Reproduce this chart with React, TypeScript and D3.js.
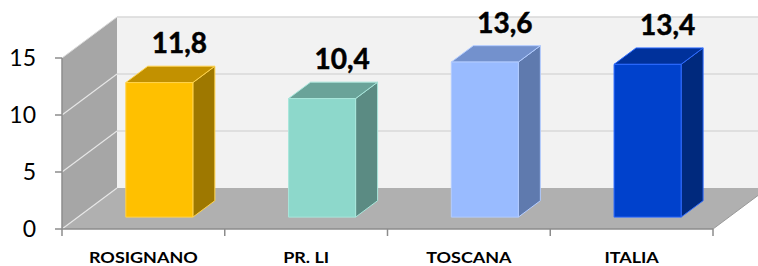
import React from "react";
import * as d3 from "d3";

const categories = ["ROSIGNANO", "PR. LI", "TOSCANA", "ITALIA"];
const values = [11.8, 10.4, 13.6, 13.4];
const valueLabels = ["11,8", "10,4", "13,6", "13,4"];
const yTicks = [0, 5, 10, 15];
const frontColors = ["#FFC000", "#8DD8CB", "#99BBFF", "#0041CC"];
const topColors = ["#C29100", "#6AA399", "#7391CD", "#00319B"];
const sideColors = ["#9E7800", "#5B8B83", "#5F7AAE", "#00297D"];
const strokeColors = ["#FFD34D", "#A8E6DB", "#B3CCFF", "#2E6BFF"];

const W = 758;
const H = 266;
const DX = 55;
const DY = -41;
const Z0 = 0.29;
const Z1 = 0.69;

export default function App() {
  const x = d3.scaleBand<string>().domain(categories).range([62, 713]).paddingInner(0).paddingOuter(0);
  const y = d3.scaleLinear().domain([0, 15]).range([229, 58]);
  const P = (px: number, v: number, z: number) => [px + z * DX, y(v) + z * DY];
  const poly = (pts: number[][]) => pts.map((p) => p.join(",")).join(" ");
  const xL = 62;
  const xR = 713;
  const bw = x.bandwidth() * 0.412;

  return (
    <svg width={W} height={H} style={{ position: "absolute", left: 0, top: 0, display: "block" }} fontFamily="Lato, 'Open Sans', sans-serif">
      <rect x={0} y={0} width={W} height={H} fill="#ffffff" />
      {/* back wall */}
      <polygon points={poly([P(xL, 0, 1), P(xL, 15, 1), [W + 60, y(15) + DY], [W + 60, y(0) + DY]])} fill="#F2F2F2" />
      {yTicks.filter((t) => t > 0).map((t) => (
        <line key={"bg" + t} x1={P(xL, t, 1)[0]} y1={P(xL, t, 1)[1]} x2={W + 60} y2={P(xL, t, 1)[1]} stroke="#D9D9D9" strokeWidth={1.5} />
      ))}
      {/* side wall */}
      <polygon points={poly([P(xL, 0, 0), P(xL, 15, 0), P(xL, 15, 1), P(xL, 0, 1)])} fill="#A6A6A6" />
      {yTicks.filter((t) => t > 0 && t < 15).map((t) => (
        <line key={"sg" + t} x1={P(xL, t, 0)[0]} y1={P(xL, t, 0)[1]} x2={P(xL, t, 1)[0]} y2={P(xL, t, 1)[1]} stroke="#E6E6E6" strokeWidth={1.2} />
      ))}
      <line x1={P(xL, 15, 0)[0]} y1={P(xL, 15, 0)[1]} x2={P(xL, 15, 1)[0]} y2={P(xL, 15, 1)[1]} stroke="#D9D9D9" strokeWidth={1} />
      {/* floor */}
      <polygon points={poly([P(xL, 0, 0), P(xR, 0, 0), P(xR, 0, 1), P(xL, 0, 1)])} fill="#B0B0B0" />
      <line x1={P(xL, 0, 0)[0]} y1={P(xL, 0, 0)[1]} x2={P(xL, 0, 1)[0]} y2={P(xL, 0, 1)[1]} stroke="#E6E6E6" strokeWidth={1.2} />
      <line x1={P(xR, 0, 0)[0]} y1={P(xR, 0, 0)[1]} x2={P(xR, 0, 1)[0]} y2={P(xR, 0, 1)[1]} stroke="#999999" strokeWidth={1} />
      {/* bars */}
      {categories.map((c, i) => {
        const cx = (x(c) as number) + x.bandwidth() / 2;
        const x0 = cx - bw / 2;
        const x1 = cx + bw / 2;
        const v = values[i];
        const front = [P(x0, 0, Z0), P(x0, v, Z0), P(x1, v, Z0), P(x1, 0, Z0)];
        const top = [P(x0, v, Z0), P(x0, v, Z1), P(x1, v, Z1), P(x1, v, Z0)];
        const side = [P(x1, 0, Z0), P(x1, v, Z0), P(x1, v, Z1), P(x1, 0, Z1)];
        return (
          <g key={c}>
            <polygon points={poly(side)} fill={sideColors[i]} stroke={strokeColors[i]} strokeWidth={1} strokeLinejoin="round" />
            <polygon points={poly(top)} fill={topColors[i]} stroke={strokeColors[i]} strokeWidth={1} strokeLinejoin="round" />
            <polygon points={poly(front)} fill={frontColors[i]} stroke={strokeColors[i]} strokeWidth={1} strokeLinejoin="round" />
            <text x={cx + 36} y={y(v) - 41} textAnchor="middle" fontWeight="bold" fontSize={28} fill="#000" stroke="#000" strokeWidth={0.5}>
              {valueLabels[i]}
            </text>
          </g>
        );
      })}
      {/* axes */}
      <line x1={xL} y1={y(0)} x2={xL} y2={y(15)} stroke="#8C8C8C" strokeWidth={1.5} />
      {yTicks.map((t) => (
        <g key={"yt" + t}>
          <line x1={xL - 7} y1={y(t)} x2={xL} y2={y(t)} stroke="#8C8C8C" strokeWidth={1.5} />
          <text x={36} y={y(t)} dy="0.36em" textAnchor="end" fontSize={23} fill="#000">
            {t}
          </text>
        </g>
      ))}
      <line x1={xL} y1={y(0)} x2={xR} y2={y(0)} stroke="#8C8C8C" strokeWidth={1.5} />
      {[...categories.map((c) => x(c) as number), xR].map((tx, i) => (
        <line key={"xt" + i} x1={tx} y1={y(0)} x2={tx} y2={y(0) + 7} stroke="#8C8C8C" strokeWidth={1.5} />
      ))}
      {categories.map((c) => {
        const cx = (x(c) as number) + x.bandwidth() / 2;
        return (
          <text key={"cl" + c} transform={`translate(${cx},263) scale(1.16,1)`} textAnchor="middle" fontWeight="bold" fontSize={15.5} fill="#000">
            {c}
          </text>
        );
      })}
    </svg>
  );
}
